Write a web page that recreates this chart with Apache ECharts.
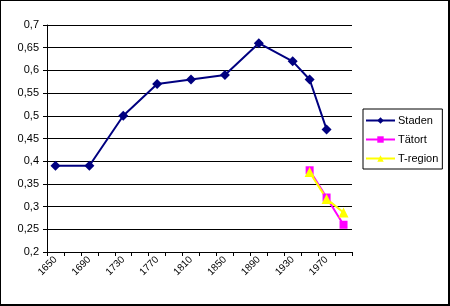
<!DOCTYPE html>
<html><head><meta charset="utf-8">
<script src="https://cdn.jsdelivr.net/npm/echarts@6/dist/echarts.min.js"></script>
<style>
html,body{margin:0;padding:0;background:#fff;}
#c{width:450px;height:306px;position:absolute;left:0;top:0;}
#f{position:absolute;left:0;top:0;width:447px;height:303px;border-left:1px solid #000;border-top:1px solid #000;border-right:2px solid #000;border-bottom:2px solid #000;pointer-events:none;}
</style></head>
<body><div id="c"></div><div id="f"></div>
<script>
const categories = ['1650','1670','1690','1710','1730','1750','1770','1790','1810','1830','1850','1870','1890','1910','1930','1950','1970','1990'];
const staden  = [0.39,null,0.39,null,0.50,null,0.57,null,0.58,null,0.59,null,0.66,null,0.62,0.58,0.47,null];
const tatort  = [null,null,null,null,null,null,null,null,null,null,null,null,null,null,null,0.38,0.32,0.26];
const tregion = [null,null,null,null,null,null,null,null,null,null,null,null,null,null,null,0.376,0.317,0.287];
const yTicks = {min:0.2, max:0.7, interval:0.05};

const font = 'Liberation Sans, Arial, sans-serif';
const chart = echarts.init(document.getElementById('c'));
chart.setOption({
  animation:false,
  backgroundColor:'#fff',
  grid:{left:47, right:98, top:25, bottom:54, containLabel:false},
  legend:{
    orient:'vertical', left:363, top:109,
    padding:[5,4,4,2], itemGap:6, itemWidth:29, itemHeight:8,
    borderColor:'#000', borderWidth:1, backgroundColor:'#fff',
    textStyle:{color:'#000', fontSize:11, fontFamily:font, padding:[0,0,0,-2], lineHeight:13},
    data:['Staden','Tätort','T-region']
  },
  xAxis:{
    type:'category', data:categories, boundaryGap:true,
    axisLine:{lineStyle:{color:'#000', width:1}},
    axisTick:{show:true, interval:0, length:4, lineStyle:{color:'#000'}},
    axisLabel:{interval:1, rotate:45, color:'#000', fontSize:10, fontFamily:font, margin:6},
    splitLine:{show:false}
  },
  yAxis:{
    type:'value', min:yTicks.min, max:yTicks.max, interval:yTicks.interval,
    axisLine:{show:true, lineStyle:{color:'#000', width:1}},
    axisTick:{show:true, length:4, lineStyle:{color:'#000'}},
    axisLabel:{color:'#000', fontSize:11, fontFamily:font, margin:8,
      formatter:v=>String(+v.toFixed(2)).replace('.',',')},
    splitLine:{show:true, lineStyle:{color:'#000', width:1}}
  },
  series:[
    {name:'Staden', type:'line', data:staden, connectNulls:true, symbol:'diamond', symbolSize:10,
     itemStyle:{color:'#000080'}, lineStyle:{color:'#000080', width:2}},
    {name:'Tätort', type:'line', data:tatort, connectNulls:true, symbol:'rect', symbolSize:8,
     itemStyle:{color:'#FF00FF'}, lineStyle:{color:'#FF00FF', width:2}},
    {name:'T-region', type:'line', data:tregion, connectNulls:true, symbol:'triangle', symbolSize:10,
     itemStyle:{color:'#FFFF00'}, lineStyle:{color:'#FFFF00', width:2}}
  ]
});
</script></body></html>
